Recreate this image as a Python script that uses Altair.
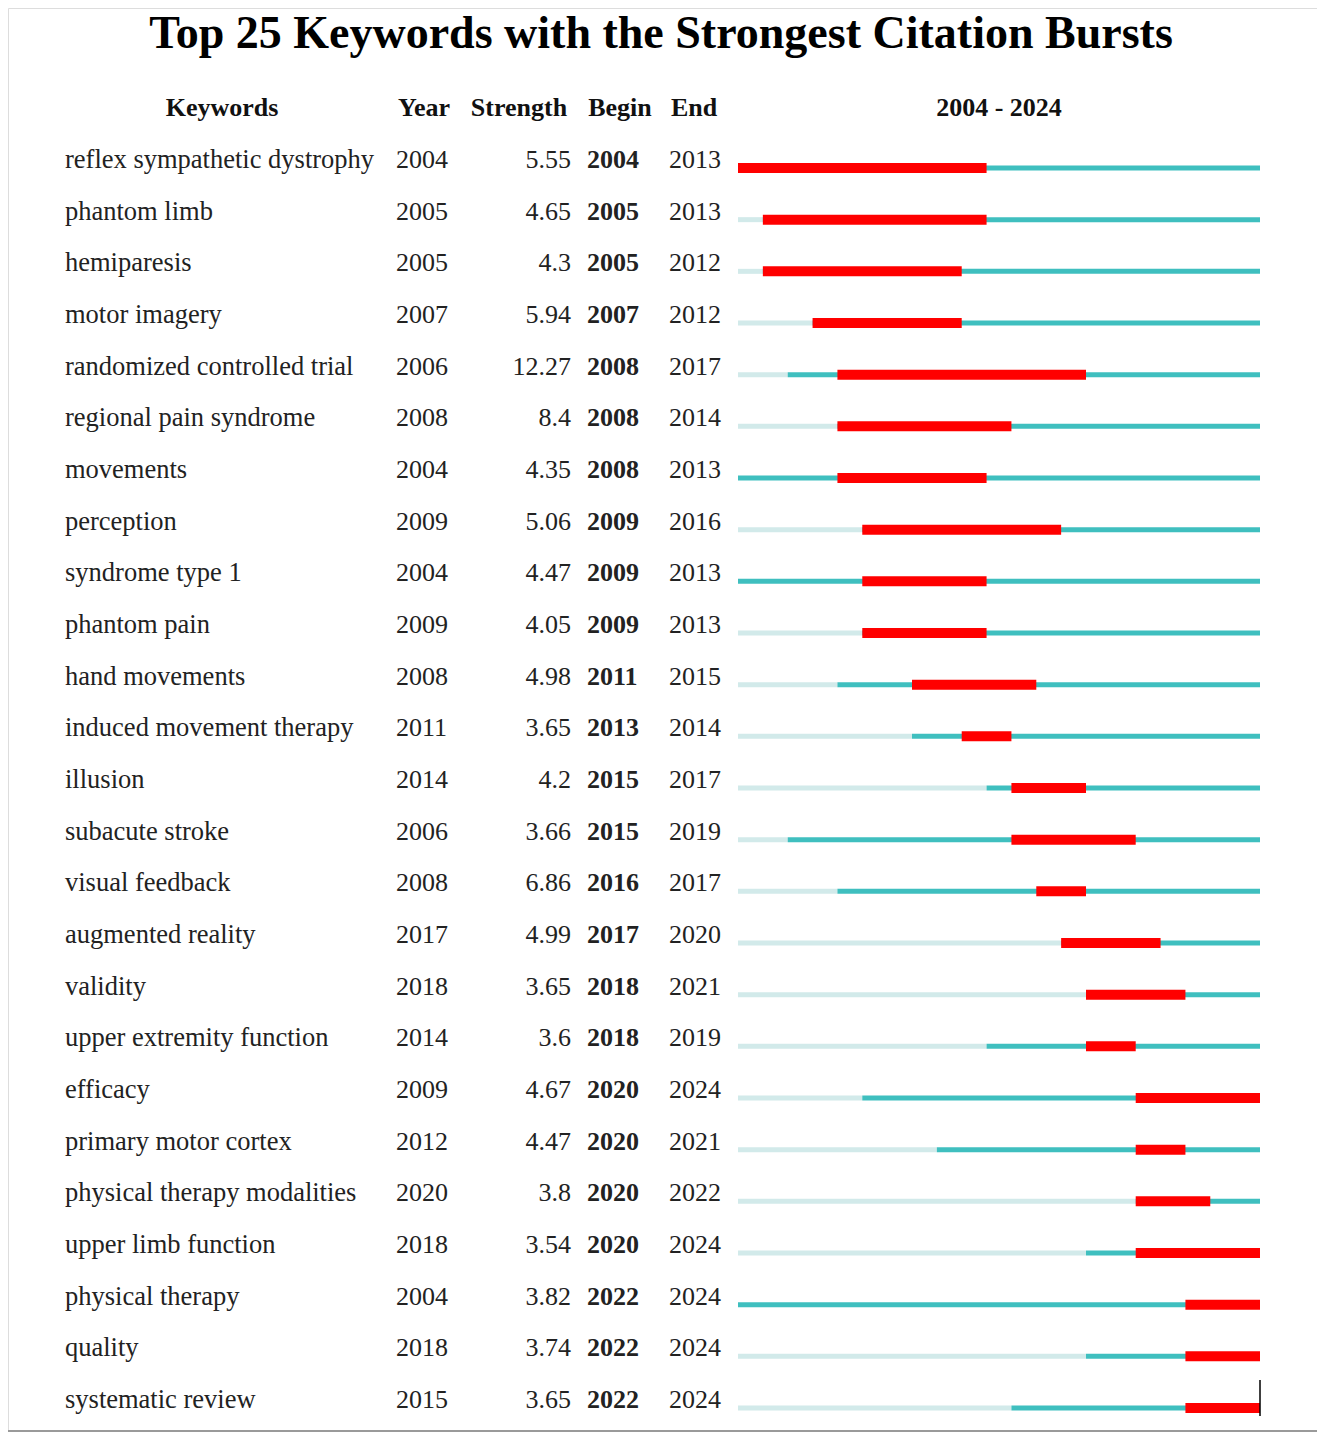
import altair as alt
import pandas as pd

keywords = [
    "reflex sympathetic dystrophy", "phantom limb", "hemiparesis", "motor imagery",
    "randomized controlled trial", "regional pain syndrome", "movements", "perception",
    "syndrome type 1", "phantom pain", "hand movements", "induced movement therapy",
    "illusion", "subacute stroke", "visual feedback", "augmented reality", "validity",
    "upper extremity function", "efficacy", "primary motor cortex",
    "physical therapy modalities", "upper limb function", "physical therapy",
    "quality", "systematic review",
]
years = [2004, 2005, 2005, 2007, 2006, 2008, 2004, 2009, 2004, 2009, 2008, 2011,
         2014, 2006, 2008, 2017, 2018, 2014, 2009, 2012, 2020, 2018, 2004, 2018, 2015]
strengths = ["5.55", "4.65", "4.3", "5.94", "12.27", "8.4", "4.35", "5.06", "4.47",
             "4.05", "4.98", "3.65", "4.2", "3.66", "6.86", "4.99", "3.65", "3.6",
             "4.67", "4.47", "3.8", "3.54", "3.82", "3.74", "3.65"]
begins = [2004, 2005, 2005, 2007, 2008, 2008, 2008, 2009, 2009, 2009, 2011, 2013,
          2015, 2015, 2016, 2017, 2018, 2018, 2020, 2020, 2020, 2020, 2022, 2022, 2022]
ends = [2013, 2013, 2012, 2012, 2017, 2014, 2013, 2016, 2013, 2013, 2015, 2014,
        2017, 2019, 2017, 2020, 2021, 2019, 2024, 2021, 2022, 2024, 2024, 2024, 2024]
period_start, period_end = 2004, 2024

df = pd.DataFrame({
    "row": list(range(len(keywords))),
    "keyword": keywords,
    "year": years,
    "strength": strengths,
    "begin": begins,
    "end": ends,
})
df["year_s"] = df["year"].astype(str)
df["begin_s"] = df["begin"].astype(str)
df["end_s"] = df["end"].astype(str)
df["start0"] = period_start
df["stop0"] = period_end + 1
df["end1"] = df["end"] + 1

FONT = "Liberation Serif"
W, H = 1309, 1424

xs = alt.Scale(domain=[period_start, period_end + 1], range=[730, 1252])
ys = alt.Scale(domain=[0, len(keywords) - 1], range=[160, 1400])

base = alt.Chart(df)
Y = alt.Y("row:Q", scale=ys, axis=None)

light = base.mark_rule(color="#d2eaea", strokeWidth=5, strokeCap="butt").encode(
    x=alt.X("start0:Q", scale=xs, axis=None), x2="year:Q", y=Y)
teal = base.mark_rule(color="#3fbfbf", strokeWidth=5, strokeCap="butt").encode(
    x=alt.X("year:Q", scale=xs, axis=None), x2="stop0:Q", y=Y)
red = base.mark_rule(color="#ff0000", strokeWidth=10, strokeCap="butt").encode(
    x=alt.X("begin:Q", scale=xs, axis=None), x2="end1:Q", y=Y)

txt = dict(font=FONT, color="#222222", baseline="alphabetic")
kw = base.mark_text(align="left", fontSize=26.5, **txt).encode(x=alt.value(57), y=Y, text="keyword:N")
yr = base.mark_text(align="left", fontSize=26, **txt).encode(x=alt.value(388), y=Y, text="year_s:N")
st = base.mark_text(align="right", fontSize=26, **txt).encode(x=alt.value(563), y=Y, text="strength:N")
bg = base.mark_text(align="left", fontSize=26, fontWeight="bold", **txt).encode(x=alt.value(579), y=Y, text="begin_s:N")
en = base.mark_text(align="left", fontSize=26, **txt).encode(x=alt.value(661), y=Y, text="end_s:N")

hdr_style = dict(font=FONT, fontSize=26, fontWeight="bold", color="#111111",
                 baseline="alphabetic", align="center")
headers = []
for label, xpos in [("Keywords", 214), ("Year", 416), ("Strength", 511),
                    ("Begin", 612), ("End", 686),
                    (f"{period_start} - {period_end}", 991)]:
    headers.append(alt.Chart(pd.DataFrame({"t": [label]})).mark_text(**hdr_style).encode(
        x=alt.value(xpos), y=alt.value(108), text="t:N"))

title = alt.Chart(pd.DataFrame({"t": ["Top 25 Keywords with the Strongest Citation Bursts"]})).mark_text(
    font=FONT, fontSize=46, fontWeight="bold", color="#000000", align="center",
    baseline="alphabetic").encode(x=alt.value(653), y=alt.value(40), text="t:N")

bottom = alt.Chart(pd.DataFrame({"a": [0]})).mark_rule(color="#9a9a9a", strokeWidth=2).encode(
    x=alt.value(-3), x2=alt.value(1312), y=alt.value(1423))

marker = alt.Chart(pd.DataFrame({"x": [period_end + 1]})).mark_rule(color="#000000", strokeWidth=1.5).encode(
    x=alt.X("x:Q", scale=xs, axis=None), y=alt.value(1372), y2=alt.value(1408))

chart = alt.layer(light, teal, red, kw, yr, st, bg, en, *headers, title, bottom, marker).properties(
    width=W, height=H, autosize="none", padding=0,
).configure_view(strokeWidth=0, stroke="transparent").configure(background="white")

chart.save("out.html", embed_options={"renderer": "svg", "actions": False})
